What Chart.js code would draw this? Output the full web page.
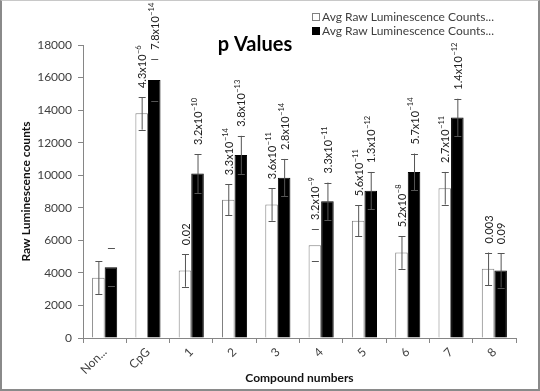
<!DOCTYPE html>
<html>
<head>
<meta charset="utf-8">
<script src="https://cdn.jsdelivr.net/npm/chart.js@4.4.1/dist/chart.umd.min.js"></script>
<style>
  html, body { margin:0; padding:0; background:#fff; }
  #wrap { width:540px; height:391px; box-sizing:border-box; border:2px solid #8a8a8a; border-top:1px solid #c8c8c8; }
  canvas { display:block; }
</style>
</head>
<body>
<div id="wrap"><canvas id="c" width="536" height="388"></canvas></div>
<script>
// ── DATA ──────────────────────────────────────────
const categories = ['Non...', 'CpG', '1', '2', '3', '4', '5', '6', '7', '8'];

const whiteValues = [3700, 13800, 4150, 8500, 8200, 5700, 7200, 5250, 9200, 4250];
const whiteErrors = [1000, 1000, 1000, 950, 1000, 1000, 950, 1000, 1000, 1000];
const whiteLineHidden = [false, false, false, false, false, true, false, false, false, false];
const whiteLabels = ['', '4.3x10^-6', '0.02', '3.3x10^-14', '3.6x10^-11', '3.2x10^-9', '5.6x10^-11', '5.2x10^-8', '2.7x10^-11', '0.003'];

const blackValues = [4350, 15850, 10100, 11250, 9850, 8400, 9050, 10200, 13550, 4150];
const blackErrors = [1150, 1300, 1200, 1170, 1150, 1150, 1150, 1130, 1150, 1050];
const blackLineHidden = [true, true, false, false, false, false, false, false, false, false];
const blackLabels = ['', '7.8x10^-14', '3.2x10^-10', '3.8x10^-13', '2.8x10^-14', '3.3x10^-11', '1.3x10^-12', '5.7x10^-14', '1.4x10^-12', '0.09'];

const yTicks = [0, 2000, 4000, 6000, 8000, 10000, 12000, 14000, 16000, 18000];

const FONT = 'Lato, "Open Sans", sans-serif';
const TXT = '#404040';

// error bars, drawn on top of bars
const errorBars = {
  id: 'errorBars',
  afterDatasetsDraw(chart) {
    const ctx = chart.ctx, y = chart.scales.y;
    chart.data.datasets.forEach((ds, i) => {
      chart.getDatasetMeta(i).data.forEach((bar, j) => {
        const v = ds.data[j], e = ds.errors[j];
        const yt = y.getPixelForValue(v + e), yb = y.getPixelForValue(v - e);
        ctx.save();
        ctx.strokeStyle = '#555';
        ctx.lineWidth = 1;
        ctx.beginPath();
        if (!ds.lineHidden[j]) { ctx.moveTo(bar.x + 0.5, yt); ctx.lineTo(bar.x + 0.5, yb); }
        ctx.moveTo(bar.x - 3, Math.round(yt) + 0.5); ctx.lineTo(bar.x + 4, Math.round(yt) + 0.5);
        ctx.moveTo(bar.x - 3, Math.round(yb) + 0.5); ctx.lineTo(bar.x + 4, Math.round(yb) + 0.5);
        ctx.stroke();
        ctx.restore();
      });
    });
  }
};

// rotated p-value labels with superscript exponent
const pLabels = {
  id: 'pLabels',
  afterDatasetsDraw(chart) {
    const ctx = chart.ctx, y = chart.scales.y;
    chart.data.datasets.forEach((ds, i) => {
      chart.getDatasetMeta(i).data.forEach((bar, j) => {
        const txt = ds.pvals[j];
        if (!txt) return;
        const [base, sup] = txt.split('^');
        const yt = y.getPixelForValue(ds.data[j] + ds.errors[j]);
        ctx.save();
        ctx.translate(bar.x + 1, yt - 9);
        ctx.rotate(-Math.PI / 2);
        ctx.fillStyle = '#222';
        ctx.textBaseline = 'middle';
        ctx.textAlign = 'left';
        ctx.font = '11px ' + FONT;
        ctx.fillText(base, 0, 0);
        if (sup) {
          const w = ctx.measureText(base).width;
          ctx.font = '7.5px ' + FONT;
          ctx.fillText(sup.replace('-', '\u2212'), w + 0.5, -4);
        }
        ctx.restore();
      });
    });
  }
};

// title + legend (overlap the plot area in the original)
const decor = {
  id: 'decor',
  afterDraw(chart) {
    const ctx = chart.ctx;
    ctx.save();
    ctx.fillStyle = '#000';
    ctx.font = 'bold 20px ' + FONT;
    ctx.textAlign = 'center';
    ctx.textBaseline = 'middle';
    ctx.fillText('p Values', 253, 44);

    ctx.font = '12px ' + FONT;
    ctx.textAlign = 'left';
    const rows = [['#fff', '#808080'], ['#000', '#000']];
    rows.forEach(([fill, stroke], k) => {
      const yy = 16 + k * 14;
      ctx.fillStyle = fill;
      ctx.fillRect(310.5, yy - 3.5, 7, 7);
      ctx.strokeStyle = stroke;
      ctx.lineWidth = 1;
      ctx.strokeRect(310.5, yy - 3.5, 7, 7);
      ctx.fillStyle = TXT;
      ctx.fillText(chart.data.datasets[k].label, 320, yy);
    });
    ctx.restore();
  }
};

new Chart(document.getElementById('c'), {
  type: 'bar',
  data: {
    labels: categories,
    datasets: [
      { label: 'Avg Raw Luminescence Counts...', data: whiteValues, errors: whiteErrors, lineHidden: whiteLineHidden, pvals: whiteLabels,
        backgroundColor: '#fff', borderColor: '#7f7f7f', borderWidth: 1 },
      { label: 'Avg Raw Luminescence Counts...', data: blackValues, errors: blackErrors, lineHidden: blackLineHidden, pvals: blackLabels,
        backgroundColor: '#000', borderColor: '#000', borderWidth: 1 }
    ]
  },
  options: {
    responsive: false,
    animation: false,
    layout: { padding: { top: 44, right: 22, left: 0, bottom: 0 } },
    datasets: { bar: { categoryPercentage: 0.58, barPercentage: 1.0 } },
    plugins: { legend: { display: false }, tooltip: { enabled: false } },
    scales: {
      x: {
        afterFit: s => { s.height = 51; },
        grid: { offset: true, drawOnChartArea: false, drawTicks: true, tickLength: 5, color: '#868686' },
        border: { color: '#868686' },
        ticks: { color: TXT, font: { family: FONT, size: 12 }, maxRotation: 45, minRotation: 45, padding: 2 },
        title: { display: true, text: 'Compound numbers', color: '#111', font: { family: FONT, size: 12, weight: 'bold' }, padding: { top: 0, bottom: 4 } }
      },
      y: {
        min: 0, max: 18000,
        afterFit: s => { s.width = 81; },
        afterBuildTicks: s => { s.ticks = yTicks.map(v => ({ value: v })); },
        grid: { drawOnChartArea: false, drawTicks: true, tickLength: 5, color: '#868686' },
        border: { color: '#868686' },
        ticks: { color: TXT, font: { family: FONT, size: 12 }, padding: 6, callback: v => String(v) },
        title: { display: true, text: 'Raw Luminescence counts', color: '#111', font: { family: FONT, size: 12, weight: 'bold' }, padding: { top: 17, bottom: 0 } }
      }
    }
  },
  plugins: [errorBars, pLabels, decor]
});
</script>
</body>
</html>
